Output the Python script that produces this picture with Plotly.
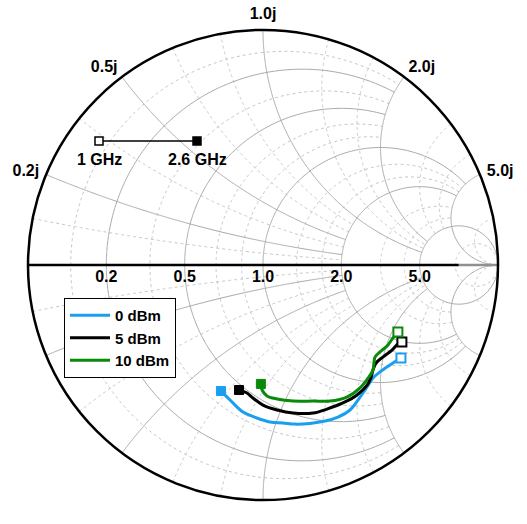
import numpy as np
import plotly.graph_objects as go

# ---------------- data: reflection coefficient (Re, Im), 1 GHz -> 2.6 GHz ----------------
series_names = ["0 dBm", "5 dBm", "10 dBm"]
series_colors = ["#1a9ff0", "#000000", "#0a8a0a"]

g0_re = [0.587, 0.540, 0.498, 0.468, 0.443, 0.413, 0.370, 0.319, 0.264, 0.200,
         0.136, 0.085, 0.030, -0.026, -0.085, -0.128, -0.153, -0.179]
g0_im = [-0.396, -0.426, -0.455, -0.481, -0.519, -0.562, -0.617, -0.647, -0.664, -0.674,
         -0.677, -0.672, -0.668, -0.651, -0.626, -0.587, -0.562, -0.536]

g5_re = [0.591, 0.574, 0.549, 0.511, 0.481, 0.468, 0.460, 0.443, 0.400, 0.340,
         0.272, 0.213, 0.128, 0.060, 0.000, -0.043, -0.068, -0.102]
g5_im = [-0.328, -0.336, -0.362, -0.391, -0.417, -0.447, -0.477, -0.511, -0.553, -0.587,
         -0.613, -0.630, -0.630, -0.617, -0.596, -0.566, -0.545, -0.532]

g10_re = [0.574, 0.570, 0.553, 0.532, 0.498, 0.477, 0.472, 0.468, 0.447, 0.413,
          0.357, 0.285, 0.213, 0.128, 0.060, 0.017, -0.004, -0.009]
g10_im = [-0.285, -0.294, -0.311, -0.340, -0.370, -0.391, -0.417, -0.447, -0.481, -0.523,
          -0.562, -0.579, -0.579, -0.579, -0.570, -0.557, -0.532, -0.506]

tick_vals = [0.2, 0.5, 1.0, 2.0, 5.0]
major_limits = [2, 2, 5, 5, np.inf]
minor_vals = [0.1, 0.35, 0.667, 0.833, 1.333, 1.667, 3.0, 4.0, 10.0]
freq_labels = ["1 GHz", "2.6 GHz"]

FONT = dict(family="Liberation Sans", size=16, color="black", weight="bold")
LEG_FONT = dict(family="Liberation Sans", size=15, color="black", weight="bold")


def to_z(gr, gi):
    g = np.array(gr) + 1j * np.array(gi)
    z = (1 + g) / (1 - g)
    return z.real, z.imag


def smax(L):
    return L / (1 + L) if np.isfinite(L) else 0.999


def r_circle(r, L):
    s = np.linspace(-smax(L), smax(L), 401)
    x = s / (1 - np.abs(s))
    return np.full_like(x, r), x


def x_arc(x, L):
    s = np.linspace(0, smax(L), 301)
    r = s / (1 - s)
    return r, np.full_like(r, x)


def limit_for(v):
    if v < 1:
        return 2
    if v < 5:
        return 5
    return np.inf


fig = go.Figure()

# minor dotted grid
for v in minor_vals:
    L = limit_for(v)
    re_, im_ = r_circle(v, L)
    fig.add_trace(go.Scattersmith(real=re_, imag=im_, mode="lines", showlegend=False,
                                  hoverinfo="skip",
                                  line=dict(color="#c4c4c4", width=1, dash="dot")))
    for sgn in (1, -1):
        re_, im_ = x_arc(sgn * v, L)
        fig.add_trace(go.Scattersmith(real=re_, imag=im_, mode="lines", showlegend=False,
                                      hoverinfo="skip",
                                      line=dict(color="#c4c4c4", width=1, dash="dot")))

# major solid grid
for v, L in zip(tick_vals, major_limits):
    re_, im_ = r_circle(v, L)
    fig.add_trace(go.Scattersmith(real=re_, imag=im_, mode="lines", showlegend=False,
                                  hoverinfo="skip", line=dict(color="#a8a8a8", width=1)))
    for sgn in (1, -1):
        re_, im_ = x_arc(sgn * v, L)
        fig.add_trace(go.Scattersmith(real=re_, imag=im_, mode="lines", showlegend=False,
                                      hoverinfo="skip", line=dict(color="#a8a8a8", width=1)))

# real axis (black, grey near the open-circuit end)
ra = np.array([0.0, 11.0])
fig.add_trace(go.Scattersmith(real=ra, imag=np.zeros(2), mode="lines", showlegend=False,
                              hoverinfo="skip", line=dict(color="black", width=2.5)))
rb = np.array([11.0, 40.0, 200.0, 2000.0])
fig.add_trace(go.Scattersmith(real=rb, imag=np.zeros(4), mode="lines", showlegend=False,
                              hoverinfo="skip", line=dict(color="#909090", width=2.5)))

# data curves
for name, color, gr, gi in zip(series_names, series_colors,
                               [g0_re, g5_re, g10_re], [g0_im, g5_im, g10_im]):
    zr, zi = to_z(gr, gi)
    fig.add_trace(go.Scattersmith(real=zr, imag=zi, mode="lines", name=name,
                                  line=dict(color=color, width=3, shape="spline")))
    fig.add_trace(go.Scattersmith(real=[zr[0]], imag=[zi[0]], mode="markers", showlegend=False,
                                  marker=dict(symbol="square", size=9, color="white",
                                              line=dict(color=color, width=2))))
    fig.add_trace(go.Scattersmith(real=[zr[-1]], imag=[zi[-1]], mode="markers", showlegend=False,
                                  marker=dict(symbol="square", size=9, color=color,
                                              line=dict(color=color, width=1))))

# page margin is removed by the post script, so figure pixels = window pixels
ML, MT, PW, PH = 28, 30, 470, 470
W, H = 527, 524
MR, MB = W - ML - PW, H - MT - PH


def px(x):
    return (x - ML) / PW


def py(y):
    return (H - MB - y) / PH


k1x, k2x, ky, hs = 99, 197, 141, 4
fig.add_shape(type="line", xref="paper", yref="paper", x0=px(k1x + hs), x1=px(k2x - hs),
              y0=py(ky), y1=py(ky), line=dict(color="black", width=1.5), layer="above")
fig.add_shape(type="rect", xref="paper", yref="paper", x0=px(k1x - hs), x1=px(k1x + hs),
              y0=py(ky + hs), y1=py(ky - hs), fillcolor="white",
              line=dict(color="black", width=1.5), layer="above")
fig.add_shape(type="rect", xref="paper", yref="paper", x0=px(k2x - hs), x1=px(k2x + hs),
              y0=py(ky + hs), y1=py(ky - hs), fillcolor="black",
              line=dict(color="black", width=1.5), layer="above")
for lbl, kx in zip(freq_labels, [k1x, k2x]):
    fig.add_annotation(text=lbl, xref="paper", yref="paper", x=px(kx), y=py(159),
                       showarrow=False, font=FONT, xanchor="center", yanchor="middle")

# hide the automatic infinity label at the open-circuit point (not in the reference)
fig.add_shape(type="rect", xref="paper", yref="paper", x0=px(502), x1=px(527),
              y0=py(280), y1=py(255), fillcolor="white", line=dict(width=0), layer="above")

axis_common = dict(tickvals=tick_vals, tickformat=".1f", showgrid=False, tickfont=FONT)
fig.update_layout(
    width=W, height=H,
    margin=dict(l=ML, r=MR, t=MT, b=MB),
    paper_bgcolor="white",
    smith=dict(
        domain=dict(x=[0, 1], y=[0, 1]),
        bgcolor="white",
        realaxis=dict(showline=False, tickangle=0, side="bottom", ticks="", **axis_common),
        imaginaryaxis=dict(showline=True, linecolor="black", linewidth=2.5, ticksuffix="j",
                           ticks="outside", ticklen=3, tickcolor="rgba(0,0,0,0)",
                           **axis_common),
    ),
    legend=dict(x=px(64), y=py(298), xanchor="left", yanchor="top", itemwidth=40,
                bgcolor="white", bordercolor="black", borderwidth=1, font=LEG_FONT),
)

fig.write_html("out.html",
               config={"displayModeBar": False},
               post_script="document.body.style.margin='0px';"
                           "document.documentElement.style.overflow='hidden';")
